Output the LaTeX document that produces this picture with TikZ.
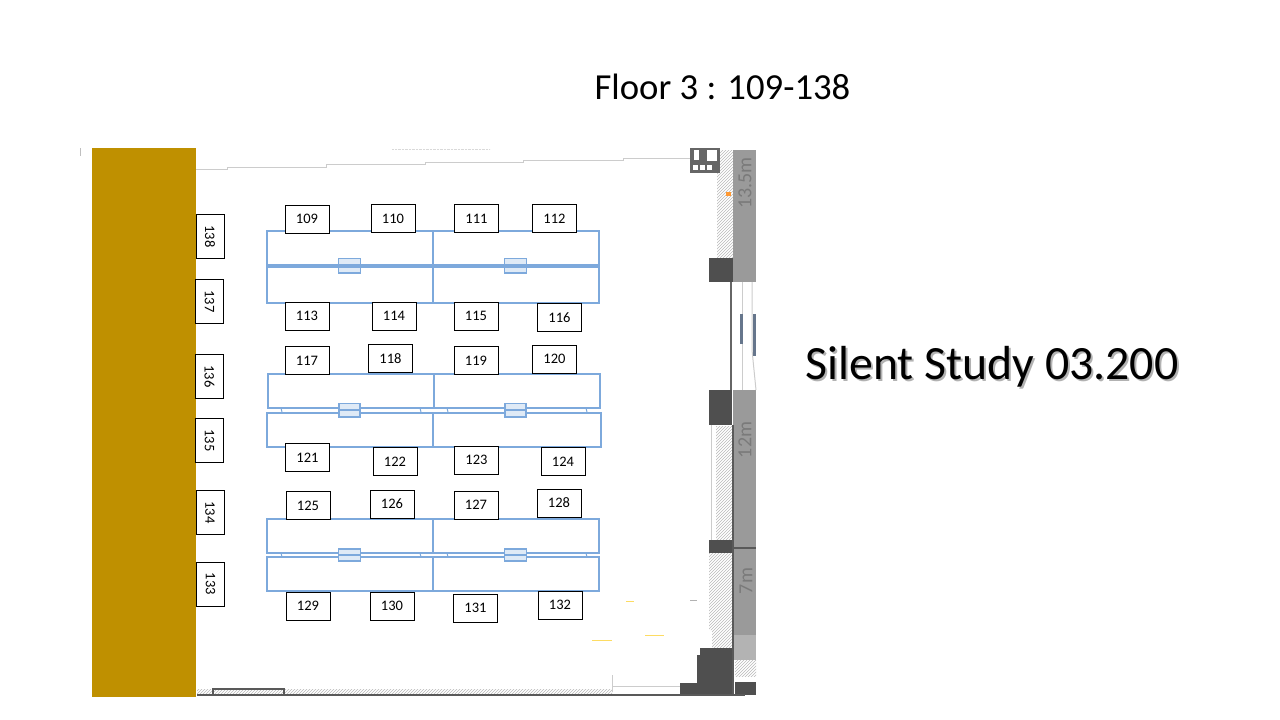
\documentclass[tikz,border=0pt]{standalone}
\usepackage{fontspec}
\setmainfont{Carlito}
\usetikzlibrary{patterns}
\definecolor{deskblue}{HTML}{7DA9DC}
\definecolor{benchgold}{HTML}{BF9000}
\definecolor{walldark}{HTML}{4F4F4F}
\definecolor{wallgray}{HTML}{9A9A9A}
\definecolor{windowmark}{HTML}{66768C}
\tikzset{
  seatbox/.style={draw=black,fill=white,line width=.8pt,inner sep=0pt,minimum width=44pt,minimum height=28pt,font=\fontsize{14.5}{16}\selectfont},
  sideseat/.style={seatbox,rotate=-90},
  desk/.style={draw=deskblue,line width=2pt},
  clip box/.style={draw=deskblue,fill=deskblue!25,line width=1.6pt},
  hatched/.style={pattern=north east lines,pattern color=black!28},
  dark/.style={fill=walldark},
  band/.style={fill=wallgray},
  thinwall/.style={draw=black!20,line width=1pt},
  metre/.style={text=black!52,rotate=90,font=\fontsize{20}{22}\selectfont}
}

\begin{document}
\begin{tikzpicture}[x=1pt,y=-1pt]
  \useasboundingbox (0,0) rectangle (1280,720);
  % titles
  \node[font=\fontsize{36.7}{40}\selectfont] (floortitle) at (722.5,87) {Floor 3 : 109-138};
  \node[text=black!30,font=\fontsize{47.8}{52}\selectfont] (roomshadow) at (994,368.5) {Silent Study 03.200};
  \node[font=\fontsize{47.8}{52}\selectfont] (roomtitle) at (992,366.5) {Silent Study 03.200};
  % walls right
  \fill[band] (733,150) rectangle (756,282);
  \fill[band] (733,390) rectangle (756,635);
  \fill[wallgray!75] (734,635) rectangle (756,660);
  \fill[hatched] (717,150) rectangle (733,258);
  \fill[hatched] (716,426) rectangle (732,539);
  \fill[hatched] (709,553) -- (732,553) -- (732,648) -- (712,648) -- (712,630) -- (709,630) -- cycle;
  \fill[hatched] (735,660) rectangle (756,676);
  \fill[dark] (709,258) rectangle (733,282);
  \fill[dark] (709,390) rectangle (732,425);
  \fill[dark] (709,540) rectangle (732,553);
  \fill[dark] (700,648) -- (732,648) -- (732,695) -- (680,695) -- (680,683) -- (697,683) -- (697,655) -- (700,655) -- cycle;
  \fill[dark] (735,682) rectangle (756,695);
  \fill[black!60] (690,148) rectangle (720,173);
  \fill[white] (707,150) rectangle (717,161);
  \fill[white] (694,150) rectangle (699,160);
  \foreach \gx in {693,700,707} \fill[white] (\gx,165) rectangle ++(5,5);
  \fill[black!65] (732,425) rectangle (734,695);
  \fill[black!65] (732,547) rectangle (756,549);
  % window
  \draw[black!60,line width=2.4pt] (731,282) -- (731,390);
  \draw[thinwall] (742,282) -- (742,390);
  \draw[thinwall] (752,282) -- (752,350) -- (756,390);
  \draw[thinwall] (711.5,425) -- (711.5,540);
  \fill[windowmark] (740,314) rectangle (743,344);
  \fill[windowmark] (753,314) rectangle (756,356);
  \fill[orange!80] (726,192) rectangle (731,196);
  % metre marks
  \node[metre] (m135) at (745,183) {13.5m};
  \node[metre] (m12) at (745,440) {12m};
  \node[metre] (m7) at (746,581) {7m};
  % top and bottom wall
  \draw[thinwall] (196,169) -- (227,169) -- (227,167) -- (326,167) -- (326,164) -- (425,164) -- (425,162) -- (523,162) -- (523,160) -- (623,160) -- (623,158) -- (690,158);
  \draw[black!25] (80,148) -- (80,156);
  \draw[black!15,densely dotted] (392,149) -- (490,149);
  \fill[hatched] (197,689) rectangle (612,694);
  \draw[black!65,line width=1.6pt] (213,695) -- (213,689) -- (284,689) -- (284,695);
  \draw[thinwall] (612,686) -- (680,686);
  \draw[thinwall] (612,675) -- (612,692);
  \fill[black!65] (197,694) rectangle (745,696);
  % specks
  \fill[yellow!60!orange!60] (626,601) rectangle (634,602);
  \fill[yellow!60!orange!60] (592,640) rectangle (612,641);
  \fill[yellow!60!orange!60] (645,635) rectangle (664,636);
  \fill[black!30] (690,600) rectangle (697,601);
  % bench
  \fill[benchgold] (92,148) rectangle (196,697);
  % desks
  \foreach \dy in {231,519} {
    \draw[desk] (266.5,\dy) rectangle (432.5,\dy+34) (432.5,\dy) rectangle (599,\dy+34);
  }
  \draw[desk] (266.5,265.5) rectangle (432.5,303) (432.5,265.5) rectangle (599,303);
  \draw[desk] (266.5,557) rectangle (432.5,591) (432.5,557) rectangle (599,591);
  \draw[desk] (267.5,374) rectangle (434,408) (434,374) rectangle (600,408);
  \draw[desk] (266.5,412.5) rectangle (432.5,446.5) (432.5,412.5) rectangle (601,446.5);
  \draw[deskblue,line width=4pt] (266.5,265.5) -- (599,265.5);
  \foreach \dx in {281,420,447,586} \draw[deskblue,line width=1pt] (\dx,408) -- (\dx+1,412);
  \foreach \dx in {281,420,447,586} \draw[deskblue,line width=1pt] (\dx,553) -- (\dx+1,557);
  % clips
  \foreach \cx in {338.5,504.5} {
    \draw[clip box] (\cx,258.5) rectangle ++(22,14.5);
    \draw[clip box] (\cx+.5,403.5) rectangle ++(21,13.5);
    \draw[clip box] (\cx,549) rectangle ++(22,12);
  }
  \draw[deskblue,line width=4pt] (338.5,265.5) -- (360.5,265.5) (504.5,265.5) -- (526.5,265.5);
  \draw[deskblue,line width=1.6pt] (338.5,410) -- (360.5,410) (504.5,410) -- (526.5,410) (338.5,555) -- (360.5,555) (504.5,555) -- (526.5,555);
  % seats
  \foreach \num/\px/\py in {109/307/219,110/393/218.5,111/476.5/218.5,112/554.5/218.5,
    113/307/316,114/394/316,115/476/316,116/559.5/317.5,
    117/307/360.5,118/390.5/358.5,119/476/360.5,120/554.5/359,
    121/307.5/457.5,122/395/461.5,123/476.5/460,124/563/461.5,
    125/308/505.5,126/392/504,127/476/505,128/559/503,
    129/308/606,130/392/606,131/475.5/608,132/560/605} {
    \node[seatbox] (seat\num) at (\px,\py) {\num};
  }
  \foreach \num/\px/\py in {133/210.5/584,134/210/512.5,135/209.5/440.5,136/209.5/376.5,137/209.5/301.5,138/210/236.5} {
    \node[sideseat] (seat\num) at (\px,\py) {\num};
  }
\end{tikzpicture}
\end{document}
